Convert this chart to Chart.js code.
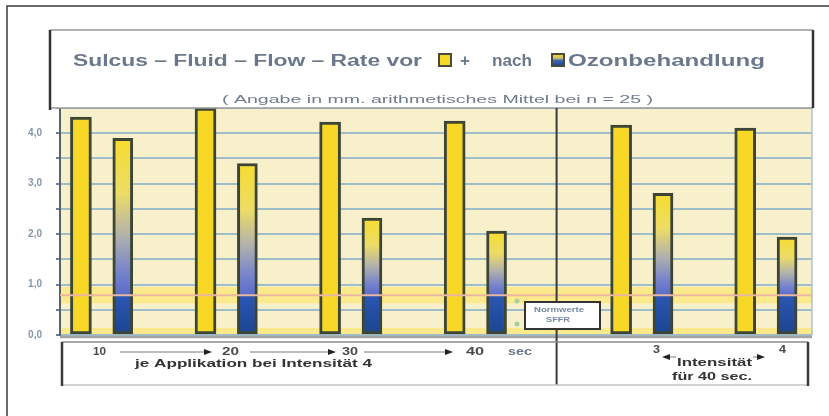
<!DOCTYPE html>
<html>
<head>
<meta charset="utf-8">
<script src="https://cdn.jsdelivr.net/npm/chart.js@4.4.1/dist/chart.umd.min.js"></script>
<style>
  html, body { margin: 0; padding: 0; background: #fff; }
  #wrap { width: 829px; height: 416px; }
</style>
</head>
<body>
<div id="wrap"><canvas id="chart" width="829" height="416"></canvas></div>
<script>
// values (mm, arithmetic mean, n = 25)
const groupLabels = ['10', '20', '30', '40', '3', '4'];
const groupPositions = [1, 2, 3, 4, 5.336, 6.332];
const vorValues = [4.32, 4.5, 4.22, 4.24, 4.16, 4.10];
const nachValues = [3.90, 3.40, 2.32, 2.06, 2.81, 1.94];
const yTicks = [0, 1, 2, 3, 4];

const pairOffset = 0.168;
const normLevel = 0.79;          // upper edge of the normal range
const normBand = [0.63, 0.95];
const dividerAt = 4.65;

const vorPoints = vorValues.map((v, i) => ({ x: groupPositions[i] - pairOffset, y: v }));
const nachPoints = nachValues.map((v, i) => ({ x: groupPositions[i] + pairOffset, y: v }));

function nachFill(ctx) {
  const chart = ctx.chart;
  if (!chart.chartArea || ctx.type !== 'data') return '#3a5cb4';
  const y = chart.scales.y;
  const top = y.getPixelForValue(ctx.raw.y);
  const bottom = y.getPixelForValue(0);
  const split = y.getPixelForValue(normLevel);
  const s = (split - top) / (bottom - top);
  const g = chart.ctx.createLinearGradient(0, top, 0, bottom);
  g.addColorStop(0, '#f7dc2e');
  g.addColorStop(s * 0.35, '#ecdc66');
  g.addColorStop(s * 0.62, '#b2b1ac');
  g.addColorStop(s * 0.86, '#7482cc');
  g.addColorStop(s, '#5b6ccb');
  g.addColorStop(Math.min(1, s + 0.002), '#2c56b2');
  g.addColorStop(1, '#1a4590');
  return g;
}

function fitText(ctx, text, x, y, w, font, color) {
  ctx.save();
  ctx.font = font;
  ctx.fillStyle = color;
  ctx.textBaseline = 'middle';
  ctx.textAlign = 'left';
  const m = ctx.measureText(text).width;
  ctx.translate(x, y);
  ctx.scale(w / m, 1);
  ctx.fillText(text, 0, 0);
  ctx.restore();
}

function arrowHead(ctx, x, y, dir) {
  ctx.beginPath();
  ctx.moveTo(x, y);
  ctx.lineTo(x - dir * 8, y - 3);
  ctx.lineTo(x - dir * 8, y + 3);
  ctx.closePath();
  ctx.fill();
}

const backdrop = {
  id: 'backdrop',
  beforeDraw(chart) {
    const { ctx, chartArea: a, scales: { y } } = chart;
    ctx.save();
    ctx.fillStyle = '#f8f0ca';
    ctx.fillRect(a.left, a.top, a.right - a.left, a.bottom - a.top);
    ctx.fillStyle = '#fbe98c';
    const b1 = y.getPixelForValue(normBand[1]), b0 = y.getPixelForValue(normBand[0]);
    ctx.fillRect(a.left, b1, a.right - a.left, b0 - b1);
    const z = y.getPixelForValue(0.14);
    ctx.fillRect(a.left, z, a.right - a.left, a.bottom - z);
    ctx.restore();
  },
  afterDatasetsDraw(chart) {
    const { ctx, chartArea: a, scales: { x, y } } = chart;
    ctx.save();
    // normal level line
    const ny = y.getPixelForValue(normLevel);
    ctx.strokeStyle = '#eab7a2';
    ctx.lineWidth = 2;
    ctx.beginPath(); ctx.moveTo(a.left, ny); ctx.lineTo(a.right, ny); ctx.stroke();
    // right edge and base line of plot
    ctx.strokeStyle = '#a9c5d2';
    ctx.lineWidth = 1.5;
    ctx.beginPath(); ctx.moveTo(a.right, a.top); ctx.lineTo(a.right, a.bottom); ctx.stroke();
    ctx.strokeStyle = '#a3a3a3';
    ctx.lineWidth = 2.5;
    ctx.beginPath(); ctx.moveTo(a.left, a.bottom + 2); ctx.lineTo(a.right, a.bottom + 2); ctx.stroke();

    // outer frame
    ctx.strokeStyle = '#3a3a3a';
    ctx.lineWidth = 1.5;
    ctx.beginPath(); ctx.moveTo(829, 6); ctx.lineTo(7, 6); ctx.lineTo(7, 416); ctx.stroke();

    // title box
    ctx.fillStyle = '#ffffff';
    ctx.fillRect(50, 30, 763, 78);
    ctx.strokeStyle = '#9a9a9a';
    ctx.lineWidth = 1.5;
    ctx.beginPath(); ctx.moveTo(50, 30); ctx.lineTo(813, 30); ctx.stroke();
    ctx.beginPath(); ctx.moveTo(50, 108); ctx.lineTo(813, 108); ctx.stroke();
    ctx.strokeStyle = '#333';
    ctx.lineWidth = 2.5;
    ctx.beginPath(); ctx.moveTo(50, 30); ctx.lineTo(50, 110); ctx.stroke();
    ctx.beginPath(); ctx.moveTo(813, 30); ctx.lineTo(813, 108); ctx.stroke();

    const tc = '#6b788b';
    const tf = 'bold 16px Arial, "Liberation Sans", sans-serif';
    fitText(ctx, 'Sulcus \u2013 Fluid \u2013 Flow \u2013 Rate vor', 73, 62, 349, tf, tc);
    ctx.fillStyle = '#f6d928';
    ctx.fillRect(439, 54, 12, 12);
    ctx.strokeStyle = '#4a4a3a'; ctx.lineWidth = 2;
    ctx.strokeRect(439, 54, 12, 12);
    fitText(ctx, '+', 460, 62, 10, tf, tc);
    fitText(ctx, 'nach', 492, 62, 40, tf, tc);
    const sq = ctx.createLinearGradient(0, 54, 0, 66);
    sq.addColorStop(0, '#f6d928'); sq.addColorStop(0.35, '#c8c070');
    sq.addColorStop(0.55, '#3d63b8'); sq.addColorStop(1, '#1d4791');
    ctx.fillStyle = sq;
    ctx.fillRect(552, 54, 12, 12);
    ctx.strokeRect(552, 54, 12, 12);
    fitText(ctx, 'Ozonbehandlung', 568, 62, 197, tf, tc);
    fitText(ctx, '( Angabe in mm. arithmetisches Mittel bei n = 25 )', 222, 100, 431,
      '11px Arial, "Liberation Sans", sans-serif', '#6f7b8e');

    // divider between the two parts
    const dx = x.getPixelForValue(dividerAt);
    ctx.strokeStyle = '#3a3a3a';
    ctx.lineWidth = 2;
    ctx.beginPath(); ctx.moveTo(dx, 108); ctx.lineTo(dx, 385); ctx.stroke();

    // normal range marker
    ctx.fillStyle = '#a6cfa4';
    [301, 324].forEach(py => { ctx.beginPath(); ctx.arc(517, py, 2.5, 0, Math.PI * 2); ctx.fill(); });
    ctx.fillStyle = '#ffffff';
    ctx.fillRect(525, 302, 75, 27);
    ctx.strokeStyle = '#333';
    ctx.lineWidth = 2;
    ctx.strokeRect(525, 302, 75, 27);
    const sf = 'bold 7px Arial, "Liberation Sans", sans-serif';
    fitText(ctx, 'Normwerte', 534, 310, 50, sf, '#7888a0');
    fitText(ctx, 'SFFR', 546, 320, 24, sf, '#7888a0');

    // bottom box
    ctx.strokeStyle = '#8a8a8a';
    ctx.lineWidth = 1.5;
    ctx.beginPath(); ctx.moveTo(62, 342); ctx.lineTo(808, 342); ctx.stroke();
    ctx.strokeStyle = '#c4c4c4';
    ctx.beginPath(); ctx.moveTo(62, 385); ctx.lineTo(808, 385); ctx.stroke();
    ctx.strokeStyle = '#3a3a3a';
    ctx.lineWidth = 2.5;
    ctx.beginPath(); ctx.moveTo(62, 342); ctx.lineTo(62, 386); ctx.stroke();
    ctx.beginPath(); ctx.moveTo(808, 342); ctx.lineTo(808, 386); ctx.stroke();

    const bf = 'bold 10px Arial, "Liberation Sans", sans-serif';
    const bc = '#4a4a4a';
    fitText(ctx, groupLabels[0], 93, 352, 13, bf, bc);
    fitText(ctx, groupLabels[1], 222, 352, 17, bf, bc);
    fitText(ctx, groupLabels[2], 342, 352, 16, bf, bc);
    fitText(ctx, groupLabels[3], 466, 352, 18, bf, bc);
    fitText(ctx, 'sec', 508, 352, 24, bf, '#6b788b');
    ctx.strokeStyle = '#7a7a7a';
    ctx.fillStyle = '#222';
    ctx.lineWidth = 1;
    [[120, 212], [250, 336], [364, 453]].forEach(([a0, a1]) => {
      ctx.beginPath(); ctx.moveTo(a0, 352); ctx.lineTo(a1 - 4, 352); ctx.stroke();
      arrowHead(ctx, a1, 352, 1);
    });
    fitText(ctx, 'je Applikation bei Intensit\u00e4t 4', 135, 364, 237, bf, '#333');

    fitText(ctx, groupLabels[4], 653, 350, 7, bf, bc);
    fitText(ctx, groupLabels[5], 779, 350, 7, bf, bc);
    ctx.beginPath(); ctx.moveTo(664, 357); ctx.lineTo(676, 357); ctx.stroke();
    ctx.beginPath(); ctx.moveTo(753, 357); ctx.lineTo(762, 357); ctx.stroke();
    arrowHead(ctx, 662, 357, -1);
    arrowHead(ctx, 765, 357, 1);
    fitText(ctx, 'Intensit\u00e4t', 677, 363, 75, bf, '#333');
    fitText(ctx, 'f\u00fcr 40 sec.', 672, 377, 80, bf, '#333');
    ctx.restore();
  }
};

new Chart(document.getElementById('chart'), {
  type: 'bar',
  data: {
    datasets: [
      {
        label: 'vor',
        data: vorPoints,
        backgroundColor: '#f8d826',
        borderColor: '#3d4636',
        borderWidth: 3,
        borderSkipped: false,
        barThickness: 21,
        grouped: false
      },
      {
        label: 'nach',
        data: nachPoints,
        backgroundColor: nachFill,
        borderColor: '#3d4636',
        borderWidth: 3,
        borderSkipped: false,
        barThickness: 20,
        grouped: false
      }
    ]
  },
  options: {
    responsive: false,
    animation: false,
    layout: { padding: { left: 0, top: 108, right: 17, bottom: 81 } },
    plugins: { legend: { display: false }, tooltip: { enabled: false } },
    scales: {
      x: { type: 'linear', min: 0.664, max: 6.7, offset: false, display: false },
      y: {
        min: 0,
        max: 4.5,
        afterFit(scale) { scale.width = 60; },
        border: { display: true, color: '#5a6068', width: 2 },
        grid: { color: '#9ebdc9', lineWidth: 2, tickLength: 4, tickColor: '#6f8090' },
        ticks: {
          stepSize: 0.5,
          autoSkip: false,
          padding: 14,
          color: '#8496ab',
          font: { family: 'Arial, "Liberation Sans", sans-serif', size: 10, weight: 'bold' },
          callback: v => yTicks.includes(v) ? v.toFixed(1).replace('.', ',') : ''
        }
      }
    }
  },
  plugins: [backdrop]
});
</script>
</body>
</html>
